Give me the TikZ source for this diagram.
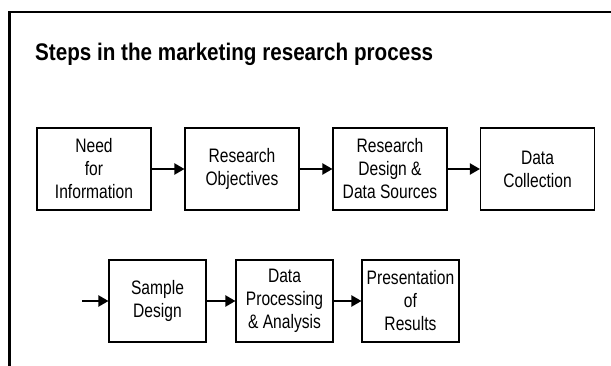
\documentclass[tikz,border=0pt]{standalone}
\usepackage{fontspec}
\setmainfont{Liberation Sans}
\newfontfamily\boxfont[FakeStretch=0.8]{Liberation Sans}
\newfontfamily\titlefont[FakeStretch=0.86]{Liberation Sans Bold}
\usetikzlibrary{arrows.meta}
\begin{document}
\begin{tikzpicture}[x=1pt,y=-1pt,
  stepbox/.style={draw,line width=1.1pt,minimum height=82pt,inner sep=0pt,align=center,
    font=\boxfont\fontsize{19.5}{23}\selectfont},
  wide/.style={minimum width=114pt},
  narrow/.style={minimum width=97pt},
  flow/.style={line width=2pt,-{Triangle[length=10pt,width=11pt]}}]
\useasboundingbox (0,0) rectangle (611,366);
\draw[line width=2.4pt] (9.5,366) -- (9.5,12) -- (612,12);
\node[anchor=base west,inner sep=0pt,font=\titlefont\fontsize{24}{28}\selectfont] (title) at (35,61) {Steps in the marketing research process};
\node[stepbox,wide] (n1) at (94,169) {Need\\for\\Information};
\node[stepbox,wide] (n2) at (242,169) {Research\\Objectives};
\node[stepbox,wide] (n3) at (390,169) {Research\\Design \&\\Data Sources};
\node[stepbox,wide] (n4) at (537.5,169) {Data\\Collection};
\node[stepbox,narrow] (n5) at (157.5,301) {Sample\\Design};
\node[stepbox,narrow] (n6) at (284.5,301) {Data\\Processing\\\& Analysis};
\node[stepbox,narrow] (n7) at (410.5,301) {Presentation\\of\\Results};
\coordinate (in5) at (82,301);
\draw[flow] (n1) -- (n2);
\draw[flow] (n2) -- (n3);
\draw[flow] (n3) -- (n4);
\draw[flow] (in5) -- (n5);
\draw[flow] (n5) -- (n6);
\draw[flow] (n6) -- (n7);
\end{tikzpicture}
\end{document}
